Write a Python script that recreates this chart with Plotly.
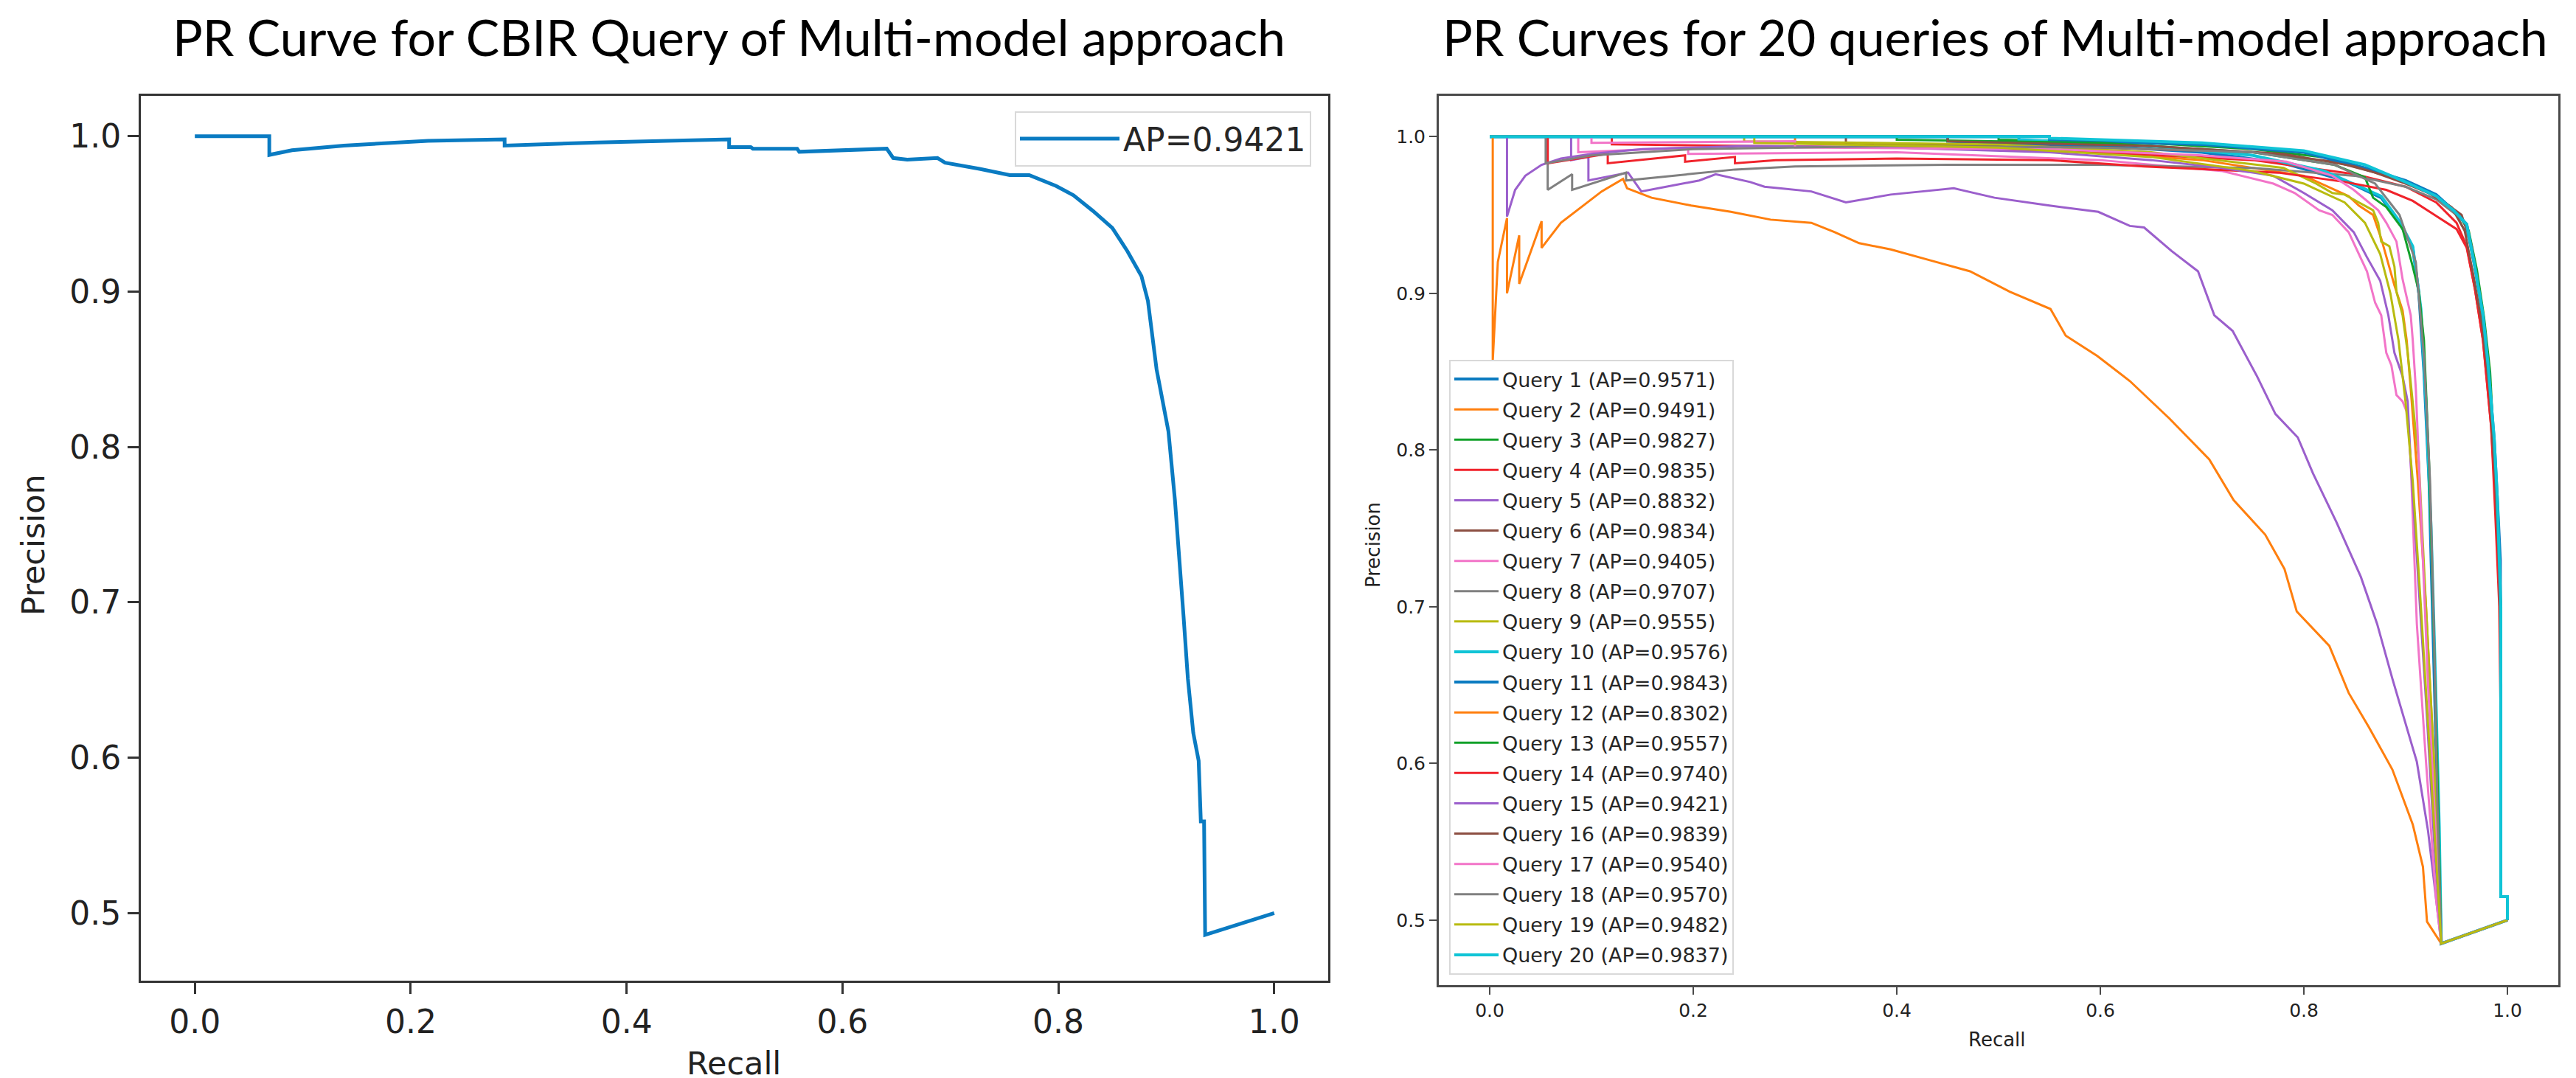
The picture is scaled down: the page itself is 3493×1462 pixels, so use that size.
import plotly.graph_objects as go

W, H = 3493, 1462

# left panel: single query curve
single_recall = [0.0, 0.069, 0.069, 0.09, 0.138, 0.216, 0.287, 0.287, 0.373, 0.495, 0.495, 0.515,
                 0.517, 0.558, 0.560, 0.641, 0.647, 0.66, 0.688, 0.695, 0.727, 0.755, 0.773, 0.798,
                 0.814, 0.832, 0.85, 0.864, 0.877, 0.883, 0.891, 0.896, 0.902, 0.908, 0.912, 0.916,
                 0.920, 0.925, 0.930, 0.932, 0.935, 0.936, 1.0]
single_precision = [1.0, 1.0, 0.988, 0.991, 0.994, 0.997, 0.998, 0.994, 0.996, 0.998, 0.993, 0.993,
                    0.992, 0.992, 0.990, 0.992, 0.986, 0.985, 0.986, 0.983, 0.979, 0.975, 0.975, 0.968,
                    0.962, 0.952, 0.941, 0.926, 0.910, 0.894, 0.850, 0.832, 0.810, 0.766, 0.731, 0.691,
                    0.651, 0.616, 0.598, 0.559, 0.559, 0.486, 0.5]

# right panel: 20 queries
q1_recall = [0, 0.45, 0.45, 0.60, 0.70, 0.78, 0.84, 0.876, 0.894, 0.907, 0.913, 0.918, 0.923, 0.927, 0.931, 0.935, 1.0]
q1_precision = [1.0, 1.0, 0.997, 0.994, 0.99, 0.983, 0.972, 0.961, 0.945, 0.929, 0.90, 0.85, 0.78, 0.68, 0.58, 0.485, 0.5]

q2_recall = [0, 0.30, 0.30, 0.55, 0.70, 0.80, 0.844, 0.854, 0.868, 0.876, 0.889, 0.897, 0.901, 0.905, 0.912, 0.920, 0.928, 0.935, 1.0]
q2_precision = [1.0, 1.0, 0.996, 0.992, 0.985, 0.975, 0.962, 0.956, 0.950, 0.935, 0.905, 0.889, 0.870, 0.839, 0.78, 0.70, 0.60, 0.485, 0.5]

q3_recall = [0, 0.50, 0.50, 0.643, 0.75, 0.83, 0.868, 0.90, 0.93, 0.95, 0.962, 0.97, 0.977, 0.983, 0.987, 0.991, 0.9935, 0.9935, 1.0, 1.0]
q3_precision = [1.0, 1.0, 0.998, 0.996, 0.992, 0.986, 0.978, 0.971, 0.962, 0.952, 0.94, 0.915, 0.885, 0.85, 0.80, 0.75, 0.70, 0.515, 0.515, 0.5]

q4_recall = [0, 0.12, 0.12, 0.40, 0.60, 0.75, 0.85, 0.90, 0.93, 0.95, 0.96, 0.968, 0.976, 0.984, 0.989, 0.9935, 0.9935, 1.0, 1.0]
q4_precision = [1.0, 1.0, 0.995, 0.993, 0.99, 0.985, 0.976, 0.968, 0.958, 0.945, 0.93, 0.903, 0.87, 0.815, 0.76, 0.70, 0.515, 0.515, 0.5]

q5_recall = [0, 0.08, 0.08, 0.097, 0.097, 0.136, 0.149, 0.206, 0.222, 0.256, 0.27, 0.316, 0.35, 0.394, 0.456,
             0.496, 0.55, 0.598, 0.629, 0.643, 0.670, 0.696, 0.712, 0.730, 0.754, 0.772, 0.794, 0.809, 0.832,
             0.856, 0.872, 0.887, 0.911, 0.922, 0.930, 0.935, 1.0]
q5_precision = [1.0, 1.0, 0.985, 0.987, 0.972, 0.977, 0.965, 0.972, 0.976, 0.971, 0.968, 0.965, 0.958, 0.963, 0.967,
                0.961, 0.956, 0.952, 0.943, 0.942, 0.927, 0.914, 0.886, 0.876, 0.847, 0.823, 0.808, 0.785, 0.754,
                0.719, 0.689, 0.654, 0.601, 0.557, 0.513, 0.485, 0.5]

q6_recall = [0, 0.35, 0.35, 0.60, 0.75, 0.83, 0.87, 0.90, 0.93, 0.955, 0.965, 0.972, 0.979, 0.985, 0.99, 0.9935, 0.9935, 1.0, 1.0]
q6_precision = [1.0, 1.0, 0.996, 0.993, 0.99, 0.984, 0.977, 0.970, 0.962, 0.95, 0.93, 0.90, 0.87, 0.82, 0.76, 0.70, 0.515, 0.515, 0.5]

q7_recall = [0, 0.087, 0.087, 0.195, 0.195, 0.40, 0.60, 0.72, 0.770, 0.791, 0.815, 0.828, 0.844, 0.854, 0.862,
             0.870, 0.876, 0.881, 0.886, 0.891, 0.897, 0.902, 0.905, 0.911, 0.920, 0.930, 0.935, 1.0]
q7_precision = [1.0, 1.0, 0.990, 0.993, 0.989, 0.99, 0.985, 0.978, 0.970, 0.964, 0.953, 0.950, 0.939, 0.925, 0.914,
                0.894, 0.886, 0.862, 0.854, 0.835, 0.831, 0.823, 0.792, 0.689, 0.601, 0.513, 0.485, 0.5]

q8_recall = [0, 0.057, 0.057, 0.081, 0.081, 0.134, 0.134, 0.241, 0.30, 0.45, 0.60, 0.75, 0.85, 0.90, 0.93, 0.95,
             0.962, 0.97, 0.977, 0.984, 0.989, 0.9935, 0.9935, 1.0, 1.0]
q8_precision = [1.0, 1.0, 0.966, 0.976, 0.966, 0.977, 0.972, 0.979, 0.981, 0.982, 0.982, 0.98, 0.975, 0.968, 0.96, 0.95,
                0.935, 0.91, 0.88, 0.83, 0.77, 0.70, 0.515, 0.515, 0.5]

q9_recall = [0, 0.25, 0.25, 0.50, 0.65, 0.738, 0.780, 0.812, 0.828, 0.840, 0.854, 0.868, 0.873, 0.876, 0.884,
             0.889, 0.891, 0.897, 0.902, 0.907, 0.913, 0.920, 0.928, 0.935, 1.0]
q9_precision = [1.0, 1.0, 0.997, 0.995, 0.99, 0.983, 0.980, 0.970, 0.964, 0.963, 0.958, 0.953, 0.945, 0.933, 0.930,
                0.917, 0.901, 0.886, 0.862, 0.831, 0.792, 0.70, 0.60, 0.485, 0.5]

q10_recall = [0, 0.52, 0.52, 0.65, 0.75, 0.82, 0.876, 0.894, 0.907, 0.915, 0.920, 0.925, 0.929, 0.933, 0.935, 1.0]
q10_precision = [1.0, 1.0, 0.998, 0.994, 0.988, 0.978, 0.962, 0.946, 0.93, 0.89, 0.83, 0.75, 0.66, 0.56, 0.485, 0.5]

q11_recall = [0, 0.55, 0.55, 0.70, 0.80, 0.86, 0.90, 0.93, 0.947, 0.96, 0.968, 0.976, 0.981, 0.987, 0.99, 0.993,
              0.9935, 0.9935, 1.0, 1.0]
q11_precision = [1.0, 1.0, 0.998, 0.995, 0.99, 0.98, 0.972, 0.963, 0.953, 0.944, 0.917, 0.886, 0.854, 0.807, 0.77, 0.73,
                 0.65, 0.515, 0.515, 0.5]

q12_recall = [0, 0.003, 0.003, 0.008, 0.017, 0.017, 0.029, 0.029, 0.051, 0.051, 0.07, 0.09, 0.11, 0.131, 0.135,
              0.159, 0.198, 0.237, 0.276, 0.316, 0.339, 0.363, 0.394, 0.433, 0.472, 0.511, 0.551, 0.566, 0.597,
              0.629, 0.668, 0.707, 0.731, 0.762, 0.781, 0.793, 0.825, 0.844, 0.864, 0.887, 0.907, 0.917, 0.921,
              0.935, 1.0]
q12_precision = [1.0, 1.0, 0.857, 0.92, 0.948, 0.90, 0.937, 0.906, 0.946, 0.929, 0.945, 0.955, 0.965, 0.973, 0.967,
                 0.961, 0.956, 0.952, 0.947, 0.945, 0.939, 0.932, 0.928, 0.921, 0.914, 0.901, 0.890, 0.873, 0.860,
                 0.844, 0.820, 0.794, 0.768, 0.746, 0.724, 0.697, 0.675, 0.645, 0.623, 0.596, 0.561, 0.534, 0.499,
                 0.485, 0.5]

q13_recall = [0, 0.40, 0.40, 0.60, 0.75, 0.83, 0.860, 0.868, 0.881, 0.897, 0.907, 0.913, 0.918, 0.920, 0.923,
              0.927, 0.931, 0.935, 1.0]
q13_precision = [1.0, 1.0, 0.998, 0.996, 0.99, 0.982, 0.974, 0.961, 0.955, 0.941, 0.917, 0.901, 0.870, 0.839, 0.792,
                 0.70, 0.60, 0.485, 0.5]

q14_recall = [0, 0.057, 0.057, 0.116, 0.116, 0.192, 0.192, 0.241, 0.241, 0.281, 0.40, 0.55, 0.643, 0.775, 0.841,
              0.881, 0.907, 0.933, 0.95, 0.96, 0.968, 0.976, 0.984, 0.988, 0.992, 0.9935, 0.9935, 1.0, 1.0]
q14_precision = [1.0, 1.0, 0.983, 0.989, 0.983, 0.988, 0.984, 0.987, 0.983, 0.985, 0.986, 0.985, 0.981, 0.977, 0.971,
                 0.966, 0.959, 0.948, 0.941, 0.929, 0.903, 0.870, 0.815, 0.76, 0.70, 0.62, 0.515, 0.515, 0.5]

q15_recall = [0, 0.017, 0.017, 0.025, 0.035, 0.051, 0.07, 0.10, 0.15, 0.25, 0.40, 0.55, 0.65, 0.72, 0.77, 0.80,
              0.828, 0.849, 0.862, 0.875, 0.883, 0.889, 0.897, 0.902, 0.905, 0.912, 0.920, 0.928, 0.935, 1.0]
q15_precision = [1.0, 1.0, 0.949, 0.966, 0.975, 0.982, 0.986, 0.989, 0.992, 0.994, 0.993, 0.99, 0.985, 0.98, 0.975, 0.964,
                 0.953, 0.939, 0.923, 0.908, 0.886, 0.862, 0.847, 0.831, 0.792, 0.72, 0.64, 0.55, 0.485, 0.5]

q16_recall = [0, 0.45, 0.45, 0.65, 0.78, 0.85, 0.89, 0.92, 0.945, 0.958, 0.967, 0.975, 0.982, 0.988, 0.992, 0.9935,
              0.9935, 1.0, 1.0]
q16_precision = [1.0, 1.0, 0.997, 0.994, 0.989, 0.981, 0.973, 0.965, 0.955, 0.94, 0.91, 0.88, 0.84, 0.78, 0.72, 0.66,
                 0.515, 0.515, 0.5]

q17_recall = [0, 0.10, 0.10, 0.30, 0.30, 0.55, 0.70, 0.783, 0.828, 0.849, 0.873, 0.881, 0.891, 0.897, 0.905, 0.907,
              0.910, 0.915, 0.922, 0.930, 0.935, 1.0]
q17_precision = [1.0, 1.0, 0.996, 0.997, 0.993, 0.992, 0.988, 0.984, 0.975, 0.966, 0.953, 0.945, 0.933, 0.909, 0.886,
                 0.870, 0.839, 0.76, 0.65, 0.55, 0.485, 0.5]

q18_recall = [0, 0.055, 0.055, 0.10, 0.20, 0.40, 0.60, 0.75, 0.83, 0.87, 0.894, 0.910, 0.918, 0.924, 0.928, 0.931, 0.935, 1.0]
q18_precision = [1.0, 1.0, 0.983, 0.988, 0.992, 0.994, 0.993, 0.99, 0.982, 0.97, 0.95, 0.92, 0.86, 0.78, 0.68, 0.58, 0.485, 0.5]

q19_recall = [0, 0.26, 0.26, 0.50, 0.65, 0.75, 0.80, 0.84, 0.86, 0.875, 0.885, 0.893, 0.90, 0.907, 0.915, 0.925, 0.935, 1.0]
q19_precision = [1.0, 1.0, 0.996, 0.993, 0.987, 0.978, 0.97, 0.958, 0.945, 0.925, 0.90, 0.87, 0.83, 0.78, 0.70, 0.59, 0.485, 0.5]

q20_recall = [0, 0.55, 0.55, 0.70, 0.80, 0.86, 0.90, 0.93, 0.947, 0.96, 0.968, 0.976, 0.981, 0.987, 0.99, 0.9935,
              0.9935, 1.0, 1.0]
q20_precision = [1.0, 1.0, 0.999, 0.996, 0.991, 0.982, 0.971, 0.962, 0.953, 0.944, 0.917, 0.886, 0.854, 0.807, 0.77, 0.70,
                 0.515, 0.515, 0.5]

query_ap = ["0.9571", "0.9491", "0.9827", "0.9835", "0.8832", "0.9834", "0.9405", "0.9707", "0.9555", "0.9576",
            "0.9843", "0.8302", "0.9557", "0.9740", "0.9421", "0.9839", "0.9540", "0.9570", "0.9482", "0.9837"]

palette = ["#0b7bc0", "#ff7f0e", "#12a12a", "#f0232b", "#9b5fcc", "#8c4f42", "#f274c8", "#808080", "#b8bb10", "#10c4d6"]

curves = [
    (q1_recall, q1_precision), (q2_recall, q2_precision), (q3_recall, q3_precision), (q4_recall, q4_precision),
    (q5_recall, q5_precision), (q6_recall, q6_precision), (q7_recall, q7_precision), (q8_recall, q8_precision),
    (q9_recall, q9_precision), (q10_recall, q10_precision), (q11_recall, q11_precision), (q12_recall, q12_precision),
    (q13_recall, q13_precision), (q14_recall, q14_precision), (q15_recall, q15_precision), (q16_recall, q16_precision),
    (q17_recall, q17_precision), (q18_recall, q18_precision), (q19_recall, q19_precision), (q20_recall, q20_precision),
]

fig = go.Figure()

fig.add_trace(go.Scatter(
    x=single_recall, y=single_precision, mode="lines", name="AP=0.9421",
    line=dict(color="#0a7bc2", width=5), xaxis="x", yaxis="y", legend="legend",
))

for i, (rec, prec) in enumerate(curves):
    name = f"Query {i + 1} (AP={query_ap[i]})"
    color = palette[i % 10]
    width = 4 if color in ("#10c4d6", "#0b7bc0") else 3
    fig.add_trace(go.Scatter(
        x=rec, y=prec, mode="lines", name=name, legendgroup=name,
        line=dict(color=color, width=width), xaxis="x2", yaxis="y2", legend="legend2",
    ))


def px_x(p):
    return p / W


def px_y(p):
    return 1 - p / H


tick_font_l = dict(family="DejaVu Sans", size=44, color="#222222")
tick_font_r = dict(family="DejaVu Sans", size=25, color="#222222")

axis_common = dict(showgrid=False, zeroline=False, showline=True, mirror=True, ticks="outside")

fig.update_layout(
    width=W, height=H,
    margin=dict(l=0, r=0, t=0, b=0),
    paper_bgcolor="white", plot_bgcolor="white",
    showlegend=True,
    xaxis=dict(domain=[px_x(183), px_x(1793)], anchor="y", range=[-0.05, 1.05],
               tickvals=[0, 0.2, 0.4, 0.6, 0.8, 1.0], tickformat=".1f", tickfont=tick_font_l,
               linecolor="#333333", linewidth=3, ticklen=15, tickwidth=3, tickcolor="#333333", **axis_common),
    yaxis=dict(domain=[px_y(1322), px_y(122)], anchor="x", range=[0.4565, 1.026],
               tickvals=[0.5, 0.6, 0.7, 0.8, 0.9, 1.0], tickformat=".1f", tickfont=tick_font_l,
               linecolor="#333333", linewidth=3, ticklen=15, tickwidth=3, tickcolor="#333333", **axis_common),
    xaxis2=dict(domain=[px_x(1943), px_x(3461)], anchor="y2", range=[-0.05, 1.05],
                tickvals=[0, 0.2, 0.4, 0.6, 0.8, 1.0], tickformat=".1f", tickfont=tick_font_r,
                linecolor="#4a4a4a", linewidth=3, ticklen=10, tickwidth=2, tickcolor="#4a4a4a", **axis_common),
    yaxis2=dict(domain=[px_y(1328), px_y(122)], anchor="x2", range=[0.4585, 1.026],
                tickvals=[0.5, 0.6, 0.7, 0.8, 0.9, 1.0], tickformat=".1f", tickfont=tick_font_r,
                linecolor="#4a4a4a", linewidth=3, ticklen=10, tickwidth=2, tickcolor="#4a4a4a", **axis_common),
    legend=dict(x=px_x(1770), y=px_y(143), xanchor="right", yanchor="top", itemwidth=135,
                font=dict(family="DejaVu Sans", size=44, color="#262626"),
                bgcolor="rgba(255,255,255,0.85)", bordercolor="#d9d9d9", borderwidth=2),
    legend2=dict(x=px_x(1957), y=px_y(480), xanchor="left", yanchor="top", itemwidth=60,
                 font=dict(family="DejaVu Sans", size=27, color="#262626"), tracegroupgap=3,
                 bgcolor="rgba(255,255,255,0.85)", bordercolor="#d9d9d9", borderwidth=2),
)

title_font = dict(family="Lato", size=68, color="black")
label_font_l = dict(family="DejaVu Sans", size=43, color="#222222")
label_font_r = dict(family="DejaVu Sans", size=26, color="#222222")

annotations = [
    dict(text="PR Curve for CBIR Query of Multi-model approach", x=px_x(980), y=px_y(42), font=title_font),
    dict(text="PR Curves for 20 queries of Multi-model approach", x=px_x(2697), y=px_y(42), font=title_font),
    dict(text="Recall", x=px_x(987), y=px_y(1434), font=label_font_l),
    dict(text="Precision", x=px_x(37), y=px_y(731), font=label_font_l, textangle=-90),
    dict(text="Recall", x=px_x(2700), y=px_y(1402), font=label_font_r),
    dict(text="Precision", x=px_x(1854), y=px_y(731), font=label_font_r, textangle=-90),
]
for a in annotations:
    fig.add_annotation(xref="paper", yref="paper", xanchor="center", yanchor="middle", showarrow=False, **a)

fig.write_html("out.html")
